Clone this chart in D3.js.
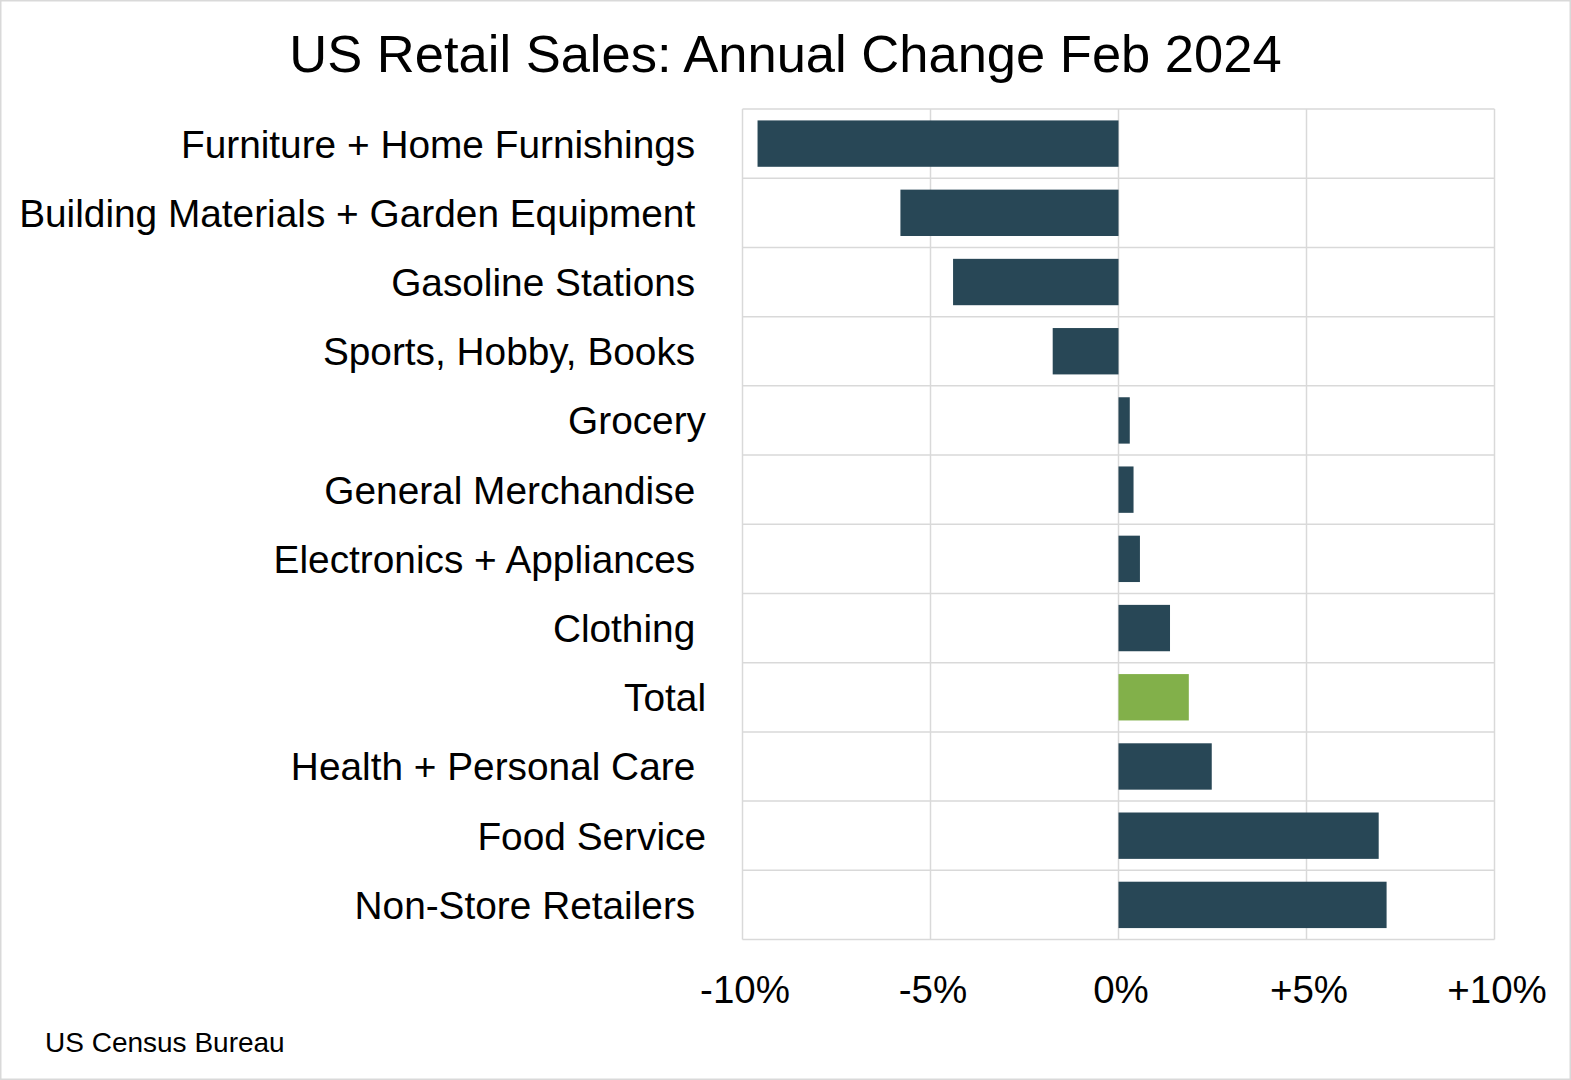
<!DOCTYPE html>
<html>
<head>
<meta charset="utf-8">
<script src="https://cdn.jsdelivr.net/npm/d3@7"></script>
<style>
  html, body { margin: 0; padding: 0; background: #fff; }
  svg { display: block; }
  text { font-family: "Liberation Sans", Arial, sans-serif; fill: #000; }
</style>
</head>
<body>
<svg id="chart" width="1571" height="1080"></svg>
<script>
const categories = [
  "Furniture + Home Furnishings ",
  "Building Materials + Garden Equipment ",
  "Gasoline Stations ",
  "Sports, Hobby, Books ",
  "Grocery",
  "General Merchandise ",
  "Electronics + Appliances ",
  "Clothing ",
  "Total",
  "Health + Personal Care ",
  "Food Service",
  "Non-Store Retailers "
];
const values = [-9.6, -5.8, -4.4, -1.75, 0.3, 0.4, 0.57, 1.37, 1.87, 2.48, 6.92, 7.13];
const highlight = ["Total"];
const tickValues = [-10, -5, 0, 5, 10];
const tickLabels = ["-10%", "-5%", "0%", "+5%", "+10%"];
const title = "US Retail Sales: Annual Change Feb 2024";
const source = "US Census Bureau";

const W = 1571, H = 1080;
const plot = { left: 742.5, right: 1494.5, top: 109, bottom: 939.5 };
const svg = d3.select("#chart");

// outer border
svg.append("rect").attr("x", 0.5).attr("y", 0.5).attr("width", W - 1).attr("height", H - 1)
  .attr("fill", "#fff").attr("stroke", "#d9d9d9").attr("stroke-width", 2);

const x = d3.scaleLinear().domain([-10, 10]).range([plot.left, plot.right]);
const y = d3.scaleBand().domain(categories).range([plot.top, plot.bottom]).paddingInner(0.33).paddingOuter(0.165);
const step = y.step();

// gridlines
const grid = svg.append("g").attr("stroke", "#d9d9d9").attr("stroke-width", 1.5).attr("fill", "none");
tickValues.forEach(t => {
  grid.append("line").attr("x1", x(t)).attr("x2", x(t)).attr("y1", plot.top).attr("y2", plot.bottom);
});
d3.range(categories.length + 1).forEach(i => {
  const yy = plot.top + i * step;
  grid.append("line").attr("x1", plot.left).attr("x2", plot.right).attr("y1", yy).attr("y2", yy);
});

// bars
svg.append("g").selectAll("rect").data(categories).join("rect")
  .attr("x", (d, i) => x(Math.min(0, values[i])))
  .attr("width", (d, i) => Math.abs(x(values[i]) - x(0)))
  .attr("y", d => y(d))
  .attr("height", y.bandwidth())
  .attr("fill", d => highlight.includes(d) ? "#82b04a" : "#284756");

// category labels
svg.append("g").selectAll("text").data(categories).join("text")
  .attr("x", 706)
  .attr("y", d => y(d) + y.bandwidth() / 2)
  .attr("dy", "0.36em")
  .attr("text-anchor", "end")
  .style("white-space", "pre")
  .attr("font-size", 38.8)
  .text(d => d);

// x axis labels
const xAxis = d3.axisBottom(x).tickValues(tickValues).tickFormat((d, i) => tickLabels[i]).tickSize(0).tickPadding(0);
const ax = svg.append("g").attr("transform", `translate(0, 976)`).call(xAxis);
ax.select(".domain").remove();
ax.selectAll("text").attr("font-size", 38.5).attr("font-family", "Liberation Sans, Arial, sans-serif")
  .attr("fill", "#000").attr("dy", "0.71em").attr("dx", 2);

// title
svg.append("text").attr("x", 785.5).attr("y", 72).attr("text-anchor", "middle")
  .attr("font-size", 52.5).text(title);

// source
svg.append("text").attr("x", 45).attr("y", 1052).attr("font-size", 28).text(source);
</script>
</body>
</html>
